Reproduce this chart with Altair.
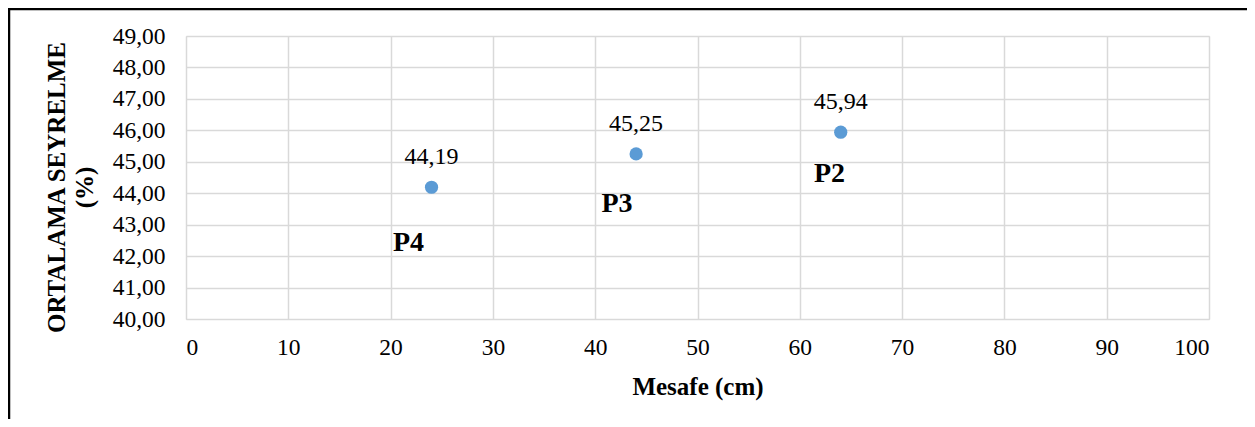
import altair as alt
import pandas as pd

# Data
distance_cm = [24, 44, 64]
mean_attenuation = [44.19, 45.25, 45.94]
value_labels = ["44,19", "45,25", "45,94"]
point_names = ["P4", "P3", "P2"]
# annotation anchor positions (data units) of the P-labels as placed in the picture
name_x = [21.75, 42.13, 62.9]
name_y = [42.16, 43.41, 44.37]

x_ticks = list(range(0, 101, 10))
y_ticks = list(range(40, 50))

df = pd.DataFrame({
    "x": distance_cm,
    "y": mean_attenuation,
    "vlab": value_labels,
    "name": point_names,
    "nx": name_x,
    "ny": name_y,
})

FONT = "Liberation Serif"
GRID = "#D9D9D9"

xscale = alt.Scale(domain=[0, 100], nice=False)
yscale = alt.Scale(domain=[40, 49], nice=False, zero=False)

base = alt.Chart(df)

points = base.mark_circle(size=175, color="#5B9BD5", opacity=1).encode(
    x=alt.X("x:Q", scale=xscale,
            axis=alt.Axis(values=x_ticks, tickCount=30, grid=True, gridColor=GRID, gridWidth=1.5,
                          domain=False, ticks=False, labelPadding=16, labelOverlap=False,
                          labelFont=FONT, labelFontSize=23.5, labelColor="black",
                          title="Mesafe (cm)", titleFont=FONT, titleFontSize=25,
                          titleFontWeight="bold", titleColor="black", titlePadding=16)),
    y=alt.Y("y:Q", scale=yscale,
            axis=alt.Axis(values=y_ticks, tickCount=30, grid=True, gridColor=GRID, gridWidth=1.5,
                          domain=False, ticks=False, labelPadding=21, labelOverlap=False,
                          labelFlush=False,
                          labelExpr="replace(format(datum.value, '.2f'), '.', ',')",
                          labelFont=FONT, labelFontSize=23.5, labelColor="black",
                          title=["ORTALAMA SEYRELME", "(%)"], titleFont=FONT,
                          titleFontSize=25, titleFontWeight="bold", titleColor="black",
                          titleAngle=270, titleBaseline="alphabetic", titleAlign="center",
                          titleX=-122, titleY=151, titleLineHeight=28)),
)

values = base.mark_text(font=FONT, fontSize=24, color="black", baseline="alphabetic",
                        align="center", dy=-23).encode(
    x=alt.X("x:Q", scale=xscale), y=alt.Y("y:Q", scale=yscale), text="vlab:N")

names = base.mark_text(font=FONT, fontSize=28, fontWeight="bold", color="black",
                       baseline="alphabetic", align="center").encode(
    x=alt.X("nx:Q", scale=xscale), y=alt.Y("ny:Q", scale=yscale), text="name:N")

frame = alt.Chart(pd.DataFrame({"a": [0]})).mark_rect(
    fill=None, stroke="black", strokeWidth=2.5).encode(
    x=alt.value(-177), y=alt.value(-27), x2=alt.value(3000), y2=alt.value(3000))

chart = alt.layer(frame, points, values, names).properties(
    width=1023, height=283,
    padding={"left": 178, "top": 28, "right": 38, "bottom": 100},
    autosize=alt.AutoSizeParams(type="none"),
).configure_view(stroke=None).configure(background="white")

chart.save("out.html", embed_options={"renderer": "svg", "actions": False})
